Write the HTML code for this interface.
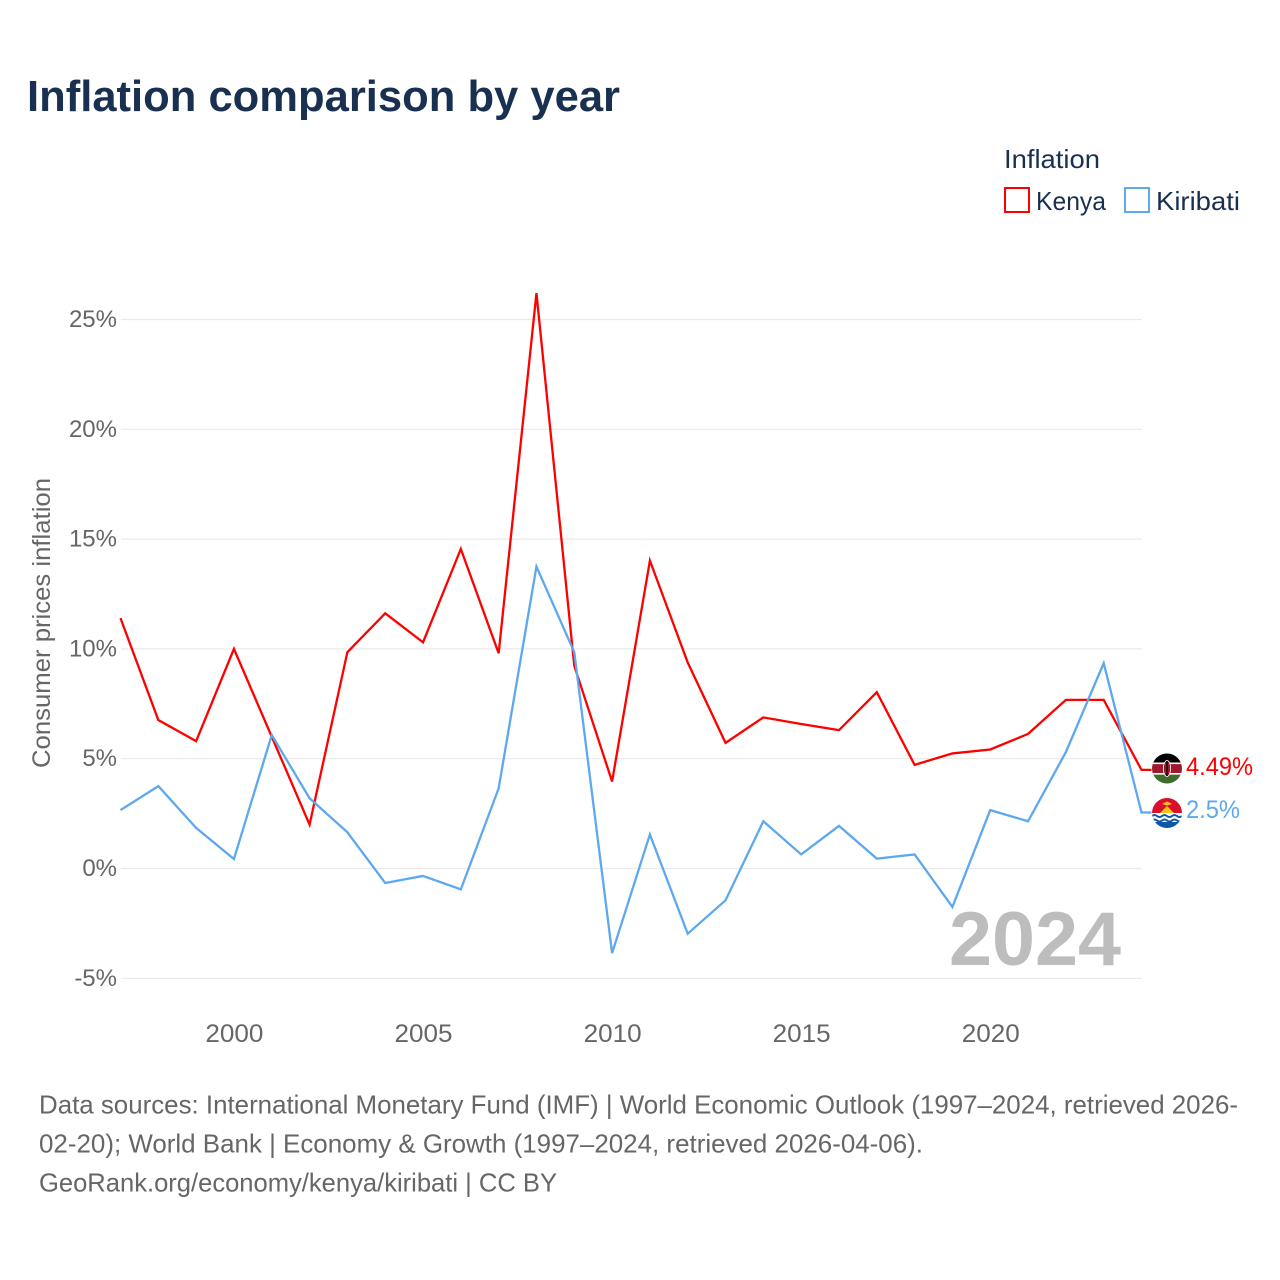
<!DOCTYPE html>
<html lang="en">
<head>
<meta charset="utf-8">
<title>Inflation comparison by year</title>
<style>
html,body{margin:0;padding:0;background:#fff;}
svg{display:block;font-family:"Liberation Sans",Arial,sans-serif;}
</style>
</head>
<body>
<svg id="chart" xmlns="http://www.w3.org/2000/svg" width="1280" height="1280" viewBox="0 0 1280 1280">
  <rect width="1280" height="1280" fill="#ffffff"/>
  <text x="27" y="111" font-size="44" font-weight="700" fill="#1a3050" textLength="593" lengthAdjust="spacingAndGlyphs">Inflation comparison by year</text>

  <g>
    <text x="1004" y="168" font-size="26" fill="#1a3050" textLength="96" lengthAdjust="spacingAndGlyphs">Inflation</text>
    <rect x="1005" y="188" width="24" height="24" fill="#fff" stroke="#ff0000" stroke-width="2"/>
    <text x="1036" y="210" font-size="26" fill="#1a3050" textLength="70" lengthAdjust="spacingAndGlyphs">Kenya</text>
    <rect x="1125" y="188" width="24" height="24" fill="#fff" stroke="#5da8ee" stroke-width="2"/>
    <text x="1156" y="210" font-size="26" fill="#1a3050" textLength="84" lengthAdjust="spacingAndGlyphs">Kiribati</text>
  </g>

  <g id="grid"></g>
  <g id="yticks"></g>
  <g id="xticks"></g>
  <text transform="translate(50,768) rotate(-90)" font-size="25" fill="#666666" textLength="290" lengthAdjust="spacingAndGlyphs">Consumer prices inflation</text>
  <text x="949" y="965" font-size="76" font-weight="700" fill="#bdbdbd" textLength="172" lengthAdjust="spacingAndGlyphs">2024</text>

  <g id="series"></g>

  <defs>
    <clipPath id="clip-ke"><circle cx="1167" cy="768.5" r="15"/></clipPath>
    <clipPath id="clip-ki"><circle cx="1167" cy="813" r="15"/></clipPath>
  </defs>
  <g clip-path="url(#clip-ke)">
    <rect x="1152" y="753.5" width="30" height="10" fill="#000000"/>
    <rect x="1152" y="763.5" width="30" height="10" fill="#a0182c"/>
    <rect x="1152" y="773.5" width="30" height="10" fill="#3f6b2c"/>
    <rect x="1152" y="762.5" width="30" height="1.6" fill="#ffffff"/>
    <rect x="1152" y="773" width="30" height="1.6" fill="#ffffff"/>
    <ellipse cx="1167" cy="768.5" rx="3.6" ry="8" fill="#a0182c" stroke="#ffffff" stroke-width="0.8"/>
    <rect x="1166.3" y="761" width="1.4" height="15" fill="#000000"/>
  </g>
  <g clip-path="url(#clip-ki)">
    <rect x="1152" y="798" width="30" height="15" fill="#d8102e"/>
    <rect x="1152" y="813" width="30" height="15" fill="#ffffff"/>
    <rect x="1152" y="822" width="30" height="6" fill="#0f56a8"/>
    <path d="M1160 813 L1167 806 L1174 813 Z" fill="#f5c518"/>
    <path d="M1162 804 L1167 801.5 L1172 804 L1167 805.5 Z" fill="#f5c518"/>
    <path d="M1152 816 q2.5 -2 5 0 t5 0 t5 0 t5 0 t5 0 t5 0" fill="none" stroke="#0f56a8" stroke-width="2"/>
    <path d="M1152 820.5 q2.5 -2 5 0 t5 0 t5 0 t5 0 t5 0 t5 0" fill="none" stroke="#0f56a8" stroke-width="2"/>
  </g>

  <g font-size="26" fill="#666666">
    <text x="39" y="1113.5" textLength="1199" lengthAdjust="spacingAndGlyphs">Data sources: International Monetary Fund (IMF) | World Economic Outlook (1997–2024, retrieved 2026-</text>
    <text x="39" y="1152.5" textLength="884" lengthAdjust="spacingAndGlyphs">02-20); World Bank | Economy &amp; Growth (1997–2024, retrieved 2026-04-06).</text>
    <text x="39" y="1191.5" textLength="518" lengthAdjust="spacingAndGlyphs">GeoRank.org/economy/kenya/kiribati | CC BY</text>
  </g>
</svg>
<script>
const years = [1997,1998,1999,2000,2001,2002,2003,2004,2005,2006,2007,2008,2009,2010,2011,2012,2013,2014,2015,2016,2017,2018,2019,2020,2021,2022,2023,2024];
const kenyaValues = [11.4,6.76,5.8,10.0,6.0,2.0,9.85,11.62,10.3,14.55,9.8,26.2,9.23,3.96,14.02,9.38,5.72,6.88,6.58,6.3,8.03,4.72,5.24,5.42,6.13,7.68,7.68,4.49];
const kiribatiValues = [2.66,3.75,1.85,0.43,6.08,3.2,1.65,-0.66,-0.34,-0.95,3.65,13.75,9.85,-3.85,1.55,-2.97,-1.45,2.15,0.64,1.94,0.45,0.64,-1.75,2.66,2.15,5.3,9.35,2.55];
const yTickValues = [-5,0,5,10,15,20,25];
const xTickValues = [2000,2005,2010,2015,2020];
const kenyaEndLabel = "4.49%";
const kiribatiEndLabel = "2.5%";

const NS = "http://www.w3.org/2000/svg";
const xScale = function (year) { return 120.5 + (year - 1997) * (1141.5 - 120.5) / 27; };
const yScale = function (value) { return 868.5 - value * 21.96; };

const grid = document.getElementById("grid");
const yticks = document.getElementById("yticks");
const xticks = document.getElementById("xticks");
const seriesGroup = document.getElementById("series");

yTickValues.forEach(function (v) {
  const line = document.createElementNS(NS, "line");
  
  
  line.setAttribute("x1", 121);
  line.setAttribute("x2", 1142);
  line.setAttribute("y1", yScale(v));
  line.setAttribute("y2", yScale(v));
  line.setAttribute("stroke", "#eaeaea");
  line.setAttribute("stroke-width", "1.2");
  grid.appendChild(line);

  const label = document.createElementNS(NS, "text");
  
  
  label.setAttribute("x", 117);
  label.setAttribute("y", yScale(v) + 7.5);
  label.setAttribute("text-anchor", "end");
  label.setAttribute("font-size", "24");
  label.setAttribute("fill", "#666666");
  label.textContent = v + "%";
  yticks.appendChild(label);
});

xTickValues.forEach(function (y) {
  const label = document.createElementNS(NS, "text");
  
  
  label.setAttribute("x", xScale(y) + 0.5);
  label.setAttribute("y", 1042);
  label.setAttribute("text-anchor", "middle");
  label.setAttribute("font-size", "25");
  label.setAttribute("fill", "#666666");
  label.setAttribute("textLength", "58");
  label.setAttribute("lengthAdjust", "spacingAndGlyphs");
  label.textContent = y;
  xticks.appendChild(label);
});

function pointsFor(values) {
  const pts = values.map(function (v, i) {
    return xScale(years[i]).toFixed(2) + "," + yScale(v).toFixed(2);
  });
  const last = values[values.length - 1];
  pts.push((xScale(years[years.length - 1]) + 10).toFixed(2) + "," + yScale(last).toFixed(2));
  return pts.join(" ");
}

const kenyaLine = document.createElementNS(NS, "polyline");


kenyaLine.setAttribute("points", pointsFor(kenyaValues));
kenyaLine.setAttribute("fill", "none");
kenyaLine.setAttribute("stroke", "#ff0000");
kenyaLine.setAttribute("stroke-width", "2.3");
seriesGroup.appendChild(kenyaLine);

const kiribatiLine = document.createElementNS(NS, "polyline");


kiribatiLine.setAttribute("points", pointsFor(kiribatiValues));
kiribatiLine.setAttribute("fill", "none");
kiribatiLine.setAttribute("stroke", "#5da8ee");
kiribatiLine.setAttribute("stroke-width", "2.3");
seriesGroup.appendChild(kiribatiLine);

const kenyaEnd = document.createElementNS(NS, "text");


kenyaEnd.setAttribute("x", 1186);
kenyaEnd.setAttribute("y", 775);
kenyaEnd.setAttribute("font-size", "25");
kenyaEnd.setAttribute("fill", "#ff0000");
kenyaEnd.setAttribute("textLength", "67");
kenyaEnd.setAttribute("lengthAdjust", "spacingAndGlyphs");
kenyaEnd.textContent = kenyaEndLabel;
seriesGroup.appendChild(kenyaEnd);

const kiribatiEnd = document.createElementNS(NS, "text");


kiribatiEnd.setAttribute("x", 1186);
kiribatiEnd.setAttribute("y", 818);
kiribatiEnd.setAttribute("font-size", "25");
kiribatiEnd.setAttribute("fill", "#5da8ee");
kiribatiEnd.setAttribute("textLength", "54");
kiribatiEnd.setAttribute("lengthAdjust", "spacingAndGlyphs");
kiribatiEnd.textContent = kiribatiEndLabel;
seriesGroup.appendChild(kiribatiEnd);
</script>
</body>
</html>
